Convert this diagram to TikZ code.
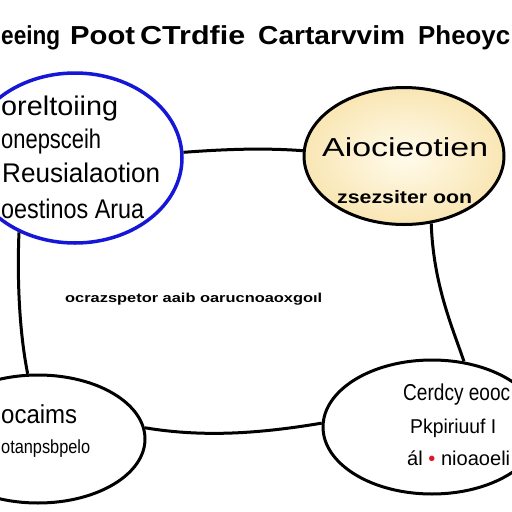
\documentclass[tikz,border=0pt]{standalone}
\usepackage{fontspec}
\setmainfont{Liberation Sans}
\usetikzlibrary{shapes.geometric}
\definecolor{ringblue}{RGB}{22,22,215}
\definecolor{paleyel}{RGB}{249,230,180}
\definecolor{lightyel}{RGB}{255,251,236}
\definecolor{dotred}{RGB}{225,20,40}
\newcommand{\fw}[2]{\resizebox{#1pt}{\height}{#2}}
\begin{document}
\begin{tikzpicture}[x=1pt,y=-1pt,
  bubble/.style={ellipse, inner sep=0pt, line width=3pt, draw=black},
  link/.style={line width=3pt, draw=black},
  lbl/.style={anchor=base west, inner sep=0pt, font=\fontsize{27}{30}\selectfont},
  ttl/.style={anchor=base west, inner sep=0pt, font=\bfseries\fontsize{26}{30}\selectfont}]
\useasboundingbox (0,0) rectangle (512,512);
\fill[white] (0,0) rectangle (512,512);
% bubbles
\node[bubble, draw=ringblue, line width=3.5pt, minimum width=214pt, minimum height=170pt] (tl) at (75,158) {};
\node[bubble, shade, inner color=lightyel, outer color=paleyel, minimum width=200pt, minimum height=137pt] (tr) at (404,156) {};
\node[bubble, minimum width=214pt, minimum height=128pt] (bl) at (38,439) {};
\node[bubble, minimum width=218pt, minimum height=134pt] (br) at (432,427) {};
% connectors
\draw[link] (tl.3) .. controls +(40,-3) and +(-40,-3) .. (tr.177);
\draw[link] (tr.-68) .. controls +(2,60) and +(-12,-35) .. (br.64);
\draw[link] (tl.-127) .. controls +(-2,50) and +(-8,-40) .. (bl.99);
\draw[link] (bl.6) .. controls +(60,10) and +(-60,10) .. (br.178);
% title
\node[ttl] (w1) at (1,44) {\fw{59}{eeing}};
\node[ttl] (w2) at (70,44) {\fw{65}{Poot}};
\node[ttl] (w3) at (140,44) {\fw{105}{CTrdfie}};
\node[ttl] (w4) at (258,44) {\fw{147}{Cartarvvim}};
\node[ttl] (w5) at (418,44) {\fw{92}{Pheoyc}};
% top-left text
\node[lbl] (a1) at (1,115) {\fw{117}{oreltoiing}};
\node[lbl] (a2) at (1,148) {\fw{100}{onepsceih}};
\node[lbl] (a3) at (2,182) {\fw{158}{Reusialaotion}};
\node[lbl] (a4) at (1,218) {\fw{143}{oestinos Arua}};
% top-right text
\node[lbl, font=\fontsize{26}{30}\selectfont] (b1) at (322,156) {\fw{166}{Aiocieotien}};
\node[lbl, font=\bfseries\fontsize{18}{22}\selectfont] (b2) at (337,203) {\fw{135}{zsezsiter oon}};
% centre text
\node[lbl, font=\bfseries\fontsize{13}{16}\selectfont] (c1) at (65,302) {\fw{257}{ocrazspetor aaib oarucnoaoxgoıl}};
% bottom-left text
\node[lbl, font=\fontsize{26}{30}\selectfont] (d1) at (1,423) {\fw{76}{ocaims}};
\node[lbl, font=\fontsize{19}{22}\selectfont] (d2) at (1,453) {\fw{89}{otanpsbpelo}};
% bottom-right text
\node[lbl, font=\fontsize{23}{26}\selectfont] (e1) at (403,400) {\fw{107}{Cerdcy eooc}};
\node[lbl, font=\fontsize{20}{24}\selectfont] (e2) at (410,433) {\fw{86}{Pkpiriuuf I}};
\node[lbl, font=\fontsize{20}{24}\selectfont] (e3) at (407,465) {\fw{103}{ál {\color{dotred}•} nioaoeli}};
\end{tikzpicture}
\end{document}
